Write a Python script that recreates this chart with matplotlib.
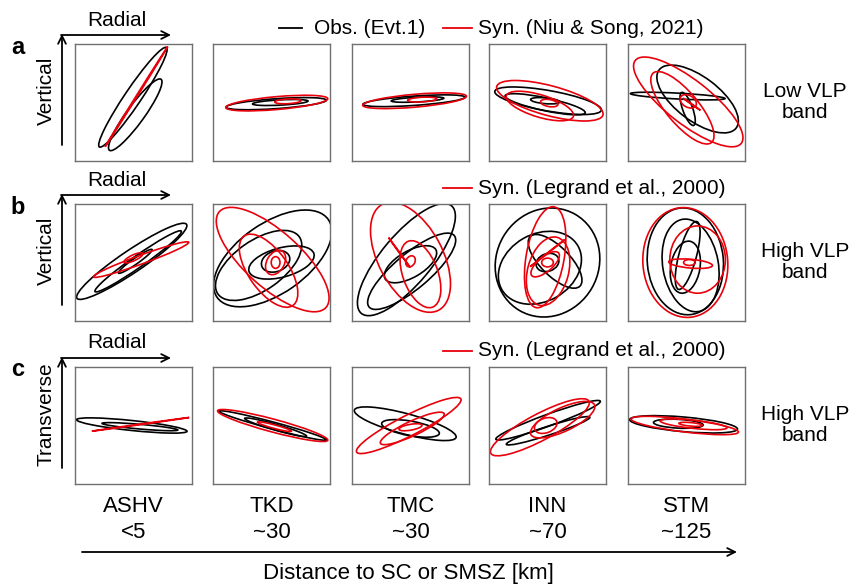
import matplotlib
matplotlib.use('Agg')
import matplotlib.pyplot as plt
from matplotlib.patches import Ellipse

plt.rcParams['font.family'] = ['Liberation Sans', 'DejaVu Sans']

# Stations and distances
stations = ["ASHV", "TKD", "TMC", "INN", "STM"]
distances = ["<5", "~30", "~30", "~70", "~125"]
row_letters = ["a", "b", "c"]
row_vert_labels = ["Vertical", "Vertical", "Transverse"]
row_band_labels = ["Low VLP\nband", "High VLP\nband", "High VLP\nband"]
row_syn_labels = ["Syn. (Niu & Song, 2021)", "Syn. (Legrand et al., 2000)",
                  "Syn. (Legrand et al., 2000)"]
obs_label = "Obs. (Evt.1)"

# Particle-motion loops approximated as ellipses: (cx, cy, width, height, angle)
# Row a: low VLP band, radial vs vertical
obs_a = [
    [(-0.01, 0.09, 2.05, 0.28, 56), (0.03, -0.21, 1.5, 0.3, 54)],
    [(0.08, -0.02, 1.72, 0.17, 4), (0.15, 0.0, 0.95, 0.09, 3)],
    [(0.06, 0.03, 1.75, 0.16, 4), (0.12, 0.05, 0.9, 0.08, 3)],
    [(0.01, 0.03, 1.85, 0.35, -10), (-0.04, -0.03, 1.4, 0.22, -12), (-0.04, 0.03, 0.5, 0.1, -5)],
    [(0.19, 0.06, 1.65, 0.75, -37), (0.02, -0.11, 0.6, 0.17, -70), (-0.15, 0.11, 1.62, 0.1, -3)],
]
syn_a = [
    [(0.05, 0.10, 2.02, 0.02, 58)],
    [(0.09, -0.01, 1.75, 0.22, 5), (0.28, 0.02, 0.45, 0.08, 3)],
    [(0.07, 0.03, 1.78, 0.22, 5), (0.2, 0.05, 0.5, 0.08, 3)],
    [(0.04, 0.03, 1.88, 0.51, -15), (-0.13, -0.06, 1.2, 0.38, -17), (0.03, -0.01, 0.3, 0.12, -10)],
    [(0.03, 0.01, 2.3, 0.75, -38), (-0.07, -0.09, 1.55, 0.55, -50), (0.03, 0.02, 0.3, 0.2, -30),
     (0.09, -0.03, 0.36, 0.01, -35)],
]

# Row b: high VLP band, radial vs vertical
obs_b = [
    [(-0.03, 0.02, 2.26, 0.38, 34), (0.08, 0.02, 1.8, 0.2, 35), (0.03, 0.02, 0.7, 0.1, 35)],
    [(0.02, 0.07, 2.32, 1.2, 35), (-0.22, -0.05, 1.7, 0.85, 35), (0.17, 0.0, 1.15, 0.5, 15),
     (0.07, 0.02, 0.5, 0.35, 20)],
    [(-0.07, 0.05, 2.4, 0.85, 50), (0.02, -0.15, 1.9, 0.6, 40), (0.0, -0.03, 1.0, 0.45, 30)],
    [(0.0, 0.0, 1.9, 1.75, 60), (-0.13, -0.09, 1.5, 1.15, 30), (0.13, 0.02, 1.2, 0.5, -45),
     (0.0, 0.0, 0.4, 0.3, 20)],
    [(-0.02, 0.02, 1.83, 1.3, 95), (0.07, -0.05, 1.6, 0.95, 100), (0.02, 0.12, 1.2, 0.3, 75),
     (-0.02, -0.08, 0.9, 0.5, 80)],
]
syn_b = [
    [(0.13, 0.05, 1.73, 0.15, 20), (0.0, 0.08, 0.35, 0.1, 25)],
    [(0.02, 0.05, 2.45, 0.95, -42), (-0.05, -0.14, 1.45, 0.68, -55), (0.07, 0.0, 0.45, 0.3, 60),
     (0.07, 0.0, 0.15, 0.2, 0)],
    [(0.0, 0.09, 2.05, 1.1, -62), (0.17, -0.2, 1.2, 0.6, -70), (-0.19, 0.17, 0.63, 0.01, -54),
     (0.0, 0.02, 0.2, 0.15, 60)],
    [(-0.04, 0.09, 1.75, 0.65, 80), (0.01, -0.15, 1.2, 0.7, 75), (-0.04, -0.03, 0.6, 0.25, 40),
     (0.0, 0.16, 0.75, 0.01, 38), (0.0, 0.0, 0.2, 0.15, 0)],
    [(-0.02, 0.0, 1.88, 1.45, 95), (0.19, 0.05, 1.15, 0.95, 90), (0.07, -0.02, 0.75, 0.15, -5),
     (0.05, 0.0, 0.2, 0.1, 0)],
]

# Row c: high VLP band, radial vs transverse
obs_c = [
    [(-0.03, 0.0, 1.9, 0.17, -6), (0.11, -0.02, 1.3, 0.08, -5)],
    [(0.02, 0.0, 1.9, 0.12, -15), (0.07, -0.03, 1.1, 0.1, -16)],
    [(-0.09, 0.03, 1.8, 0.35, -15), (0.0, -0.05, 1.0, 0.25, -10)],
    [(0.01, 0.09, 1.9, 0.2, 20), (0.01, -0.09, 1.5, 0.15, 18)],
    [(-0.05, 0.02, 1.85, 0.25, -5), (-0.14, 0.03, 0.85, 0.15, -3)],
]
syn_c = [
    [(0.12, 0.02, 1.68, 0.01, 8)],
    [(0.02, 0.0, 1.95, 0.22, -15), (0.05, -0.02, 0.6, 0.06, -15)],
    [(-0.03, 0.0, 2.0, 0.35, 27), (0.03, -0.05, 1.2, 0.25, 25), (0.0, -0.03, 0.4, 0.1, 10)],
    [(-0.13, -0.03, 1.9, 0.45, 28), (0.26, 0.1, 1.2, 0.4, 25), (-0.03, 0.0, 0.4, 0.25, 20)],
    [(-0.03, 0.0, 1.85, 0.22, -7), (0.12, 0.02, 1.15, 0.14, -6), (0.07, 0.02, 0.4, 0.06, -5)],
]

obs_rows = [obs_a, obs_b, obs_c]
syn_rows = [syn_a, syn_b, syn_c]

# Layout (pixels)
W, H = 860, 587
box_left = [75, 213, 352, 489, 628]
box_top = [44, 204, 367]
box_size = 117

fig = plt.figure(figsize=(W / 100, H / 100), dpi=100)

# overlay for annotations in pixel coordinates
bg = fig.add_axes([0, 0, 1, 1])
bg.set_xlim(0, W)
bg.set_ylim(H, 0)
bg.axis('off')

fs = 15
arrow = dict(arrowstyle='->', lw=1.3, color='black', shrinkA=0, shrinkB=0,
             mutation_scale=14)

for r in range(3):
    top = box_top[r]
    # panel letter
    bg.text(18, top + 3, row_letters[r], fontsize=17, fontweight='bold',
            ha='center', va='center')
    # radial arrow and label
    ay = top - 9
    bg.annotate('', xy=(171, ay), xytext=(61, ay), arrowprops=arrow)
    bg.text(117, ay - 15, "Radial", fontsize=fs, ha='center', va='center')
    # vertical / transverse arrow
    bg.annotate('', xy=(62, ay - 1), xytext=(62, top + 101), arrowprops=arrow)
    bg.text(46, top + 47, row_vert_labels[r], fontsize=fs, rotation=90,
            ha='center', va='center')
    # legend entries
    ly = ay - 7
    if r == 0:
        bg.plot([279, 302], [ly, ly], color='black', lw=1.3)
        bg.text(314, ly, obs_label, fontsize=fs, ha='left', va='center')
    bg.plot([443, 472], [ly, ly], color='#e8000b', lw=1.3)
    bg.text(478, ly, row_syn_labels[r], fontsize=fs, ha='left', va='center')
    # band label
    bg.text(805, top + 58, row_band_labels[r], fontsize=fs, ha='center',
            va='center', linespacing=1.15)

    for i in range(5):
        ax = fig.add_axes([box_left[i] / W, 1 - (top + box_size) / H,
                           box_size / W, box_size / H])
        ax.set_xlim(-1, 1)
        ax.set_ylim(-1, 1)
        ax.set_xticks([])
        ax.set_yticks([])
        for s in ax.spines.values():
            s.set_color('#707070')
            s.set_linewidth(1.0)
        for (cx, cy, w, h, ang) in obs_rows[r][i]:
            ax.add_patch(Ellipse((cx, cy), w, h, angle=ang, fill=False,
                                 edgecolor='black', lw=1.2))
        for (cx, cy, w, h, ang) in syn_rows[r][i]:
            ax.add_patch(Ellipse((cx, cy), w, h, angle=ang, fill=False,
                                 edgecolor='#e8000b', lw=1.2))

# station names and distances
for i in range(5):
    xc = box_left[i] + box_size / 2
    bg.text(xc, 506, stations[i], fontsize=16, ha='center', va='center')
    bg.text(xc, 532, distances[i], fontsize=16, ha='center', va='center')

bg.annotate('', xy=(737, 552), xytext=(82, 552), arrowprops=arrow)
bg.text(408, 574, "Distance to SC or SMSZ [km]", fontsize=16, ha='center',
        va='center')

fig.savefig('out.png', dpi=100)
